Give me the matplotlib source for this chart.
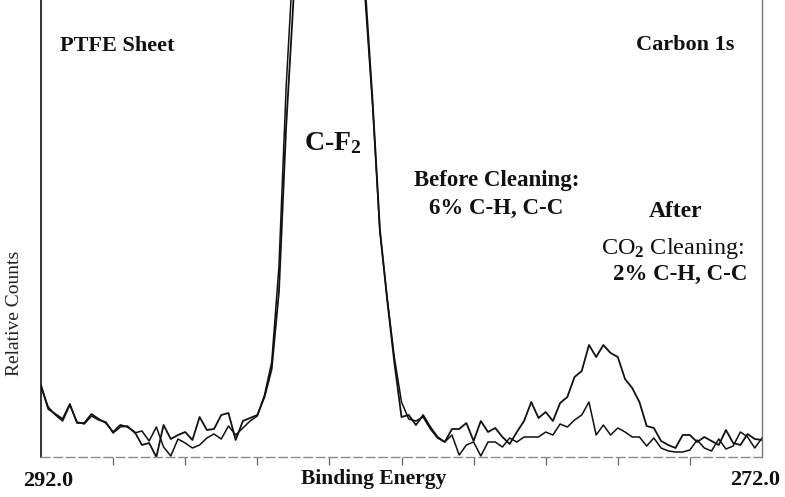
"""
PTFE sheet, Carbon 1s XPS spectrum before / after CO2 cleaning.
Redrawn from the scanned figure; counts are in arbitrary units read off the plot.
"""
import numpy as np
import matplotlib
matplotlib.use("Agg")
import matplotlib.pyplot as plt

plt.rcParams["font.family"] = ["Liberation Serif", "DejaVu Serif"]
plt.rcParams["mathtext.fontset"] = "custom"
plt.rcParams["mathtext.rm"] = "Liberation Serif:bold"
plt.rcParams["mathtext.it"] = "Liberation Serif:bold"
plt.rcParams["mathtext.bf"] = "Liberation Serif:bold"
plt.rcParams["path.simplify"] = False

# binding energy grid, 0.2 eV steps from 292.0 down to 272.0
energy = np.linspace(292.0, 272.0, 101)

# relative counts (arbitrary units), C-F2 peak runs off the top of the frame
before = [72, 48, 43, 38, 53, 34, 34, 43, 38, 34, 25, 32, 30,
          25, 12, 14, 0, 32, 18, 22, 25, 17, 40, 27, 28, 42, 44, 17, 36, 39,
          42, 60, 88, 165, 330, 455, 600, 720, 800, 840, 850, 830, 770, 680,
          560, 465, 355, 228, 158, 95, 40, 42, 32, 42, 30, 20, 15, 28, 28,
          34, 16, 36, 25, 29, 20, 13, 25, 36, 55, 39, 45, 36, 54, 60, 80,
          86, 112, 100, 112, 104, 100, 78, 69, 55, 31, 29, 16, 12, 9, 22,
          22, 15, 20, 16, 12, 27, 14, 12, 23, 18, 17]
after = [70, 50, 42, 36, 52, 35, 33, 41, 37, 35, 24, 30, 31,
         24, 26, 16, 30, 10, 1, 18, 14, 9, 12, 19, 23, 18, 31, 22, 29, 36,
         41, 62, 95, 190, 370, 500, 640, 750, 820, 850, 850, 820, 760, 670,
         550, 454, 350, 225, 160, 100, 55, 38, 36, 40, 28, 19, 15, 22, 2,
         12, 15, 1, 15, 15, 10, 19, 15, 20, 20, 20, 25, 22, 33, 30, 37,
         42, 55, 22, 32, 22, 29, 25, 20, 20, 11, 19, 9, 6, 5, 5, 7, 17, 9,
         6, 18, 8, 11, 25, 20, 9, 19]

TICKS = [290, 288, 286, 284, 282, 280, 278, 276, 274]
INK = "#111111"


def main():
    fig = plt.figure(figsize=(7.85, 4.97), dpi=100)
    ax = fig.add_axes([41 / 785, 40 / 497, 721 / 785, 457 / 497])

    ax.plot(energy, before, color=INK, lw=1.3)
    ax.plot(energy, after, color=INK, lw=1.1)

    ax.set_xlim(292.0, 272.0)
    ax.set_ylim(0, 457)

    # scanned-look frame: solid left, faint right, dashed baseline
    ax.spines["top"].set_visible(False)
    ax.spines["left"].set_color(INK)
    ax.spines["left"].set_linewidth(1.2)
    ax.spines["right"].set_color("#777777")
    ax.spines["right"].set_linewidth(1.0)
    ax.spines["bottom"].set_color("#8a8a8a")
    ax.spines["bottom"].set_linewidth(1.0)
    ax.spines["bottom"].set_linestyle((0, (6, 3)))

    ax.set_xticks(TICKS)
    ax.set_xticklabels([])
    ax.tick_params(axis="x", direction="out", length=6, width=0.9, color="#666666")
    ax.set_yticks([])

    bold = dict(color=INK, fontweight="bold", ha="center", va="center")
    fig.text(0.150, 0.907, "PTFE Sheet", fontsize=16, **bold)
    fig.text(0.873, 0.909, "Carbon 1s", fontsize=16, **bold)
    fig.text(0.424, 0.712, "C-F$_2$", fontsize=20, **bold)
    fig.text(0.633, 0.636, "Before Cleaning:", fontsize=16.5, **bold)
    fig.text(0.632, 0.581, "6% C-H, C-C", fontsize=16.5, **bold)
    fig.text(0.861, 0.574, "After", fontsize=17, **bold)
    fig.text(0.857, 0.500, "CO$_2$ Cleaning:", fontsize=17.5, color=INK,
             ha="center", va="center")
    fig.text(0.866, 0.447, "2% C-H, C-C", fontsize=16.5, **bold)

    fig.text(0.061, 0.032, "292.0", fontsize=16, **bold)
    fig.text(0.962, 0.034, "272.0", fontsize=16, **bold)
    fig.text(0.476, 0.036, "Binding Energy", fontsize=15.5, **bold)
    fig.text(0.019, 0.370, "Relative Counts", fontsize=14, rotation=90,
             color="#222222", ha="center", va="center")

    fig.savefig("out.png", dpi=100)
    plt.close(fig)


if __name__ == "__main__":
    main()
